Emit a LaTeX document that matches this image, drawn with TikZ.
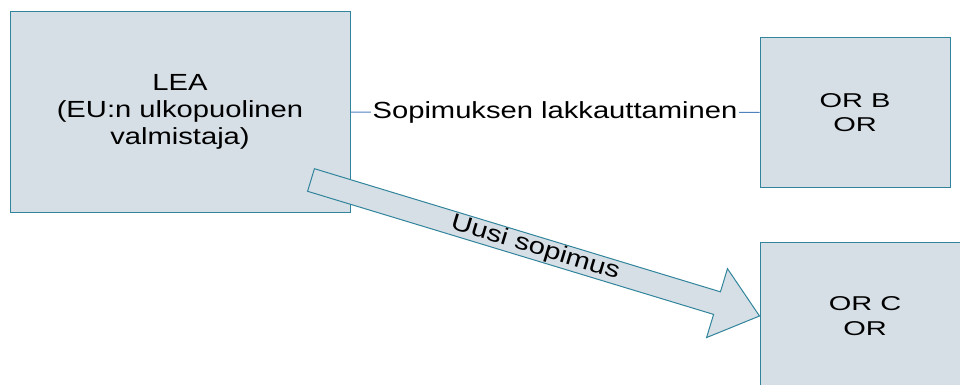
\documentclass[tikz,border=0pt]{standalone}
\usepackage{fontspec}
\setmainfont{Liberation Sans}[FakeStretch=1.25]
\newfontfamily\orfont{Liberation Sans}[FakeStretch=1.45]
\usetikzlibrary{calc}
\definecolor{boxfill}{HTML}{D7DFE6}
\definecolor{boxline}{HTML}{31849B}
\definecolor{linkblue}{HTML}{4F81BD}
\tikzset{
  party/.style={rectangle, draw=boxline, line width=0.75pt, fill=boxfill,
    font=\fontsize{17.5}{20.25}\selectfont, align=center, inner sep=2pt},
  party/or/.style={rectangle, draw=boxline, line width=0.75pt, fill=boxfill,
    font=\orfont\fontsize{15}{18.2}\selectfont, align=center, inner sep=2pt},
  link/.style={draw=linkblue, line width=0.75pt},
  lb/.style={fill=white, inner xsep=1pt, inner ysep=2pt, font=\fontsize{17.5}{20.25}\selectfont},
  bigarrow/.style={draw=boxline, line width=0.75pt, fill=boxfill, line join=miter},
}

\begin{document}
\begin{tikzpicture}[x=0.75pt,y=-0.75pt]
\useasboundingbox (0,0) rectangle (960,385);

\node[party, minimum width=255pt, minimum height=150pt] (LEA) at (180,112) {LEA\\(EU:n ulkopuolinen\\valmistaja)};
\node[party/or, minimum width=142.5pt, minimum height=112.5pt] (ORB) at (855,112.5) {OR B\\OR};
\node[party/or, minimum width=157.5pt, minimum height=111pt] (ORC) at (865,316) {OR C\\OR};

\draw[link] (LEA.east) -- node[lb] (lakk) {Sopimuksen lakkauttaminen} (ORB.west);

% block arrow LEA -> OR C
\coordinate (tail) at (311,180);
\coordinate (hb) at ($(ORC.west)!33.3pt!(tail)$);
\draw[bigarrow] ($(tail)!8.85pt!90:(ORC.west)$) -- ($(hb)!8.85pt!-90:(tail)$)
  -- ($(hb)!27pt!-90:(tail)$) -- (ORC.west) -- ($(hb)!27pt!90:(tail)$)
  -- ($(hb)!8.85pt!90:(tail)$) -- ($(tail)!8.85pt!-90:(ORC.west)$) -- cycle;
\path (tail) -- node[sloped, font=\fontsize{17.5}{20.25}\selectfont] (uusi) {Uusi sopimus} (ORC.west);
\end{tikzpicture}
\end{document}
